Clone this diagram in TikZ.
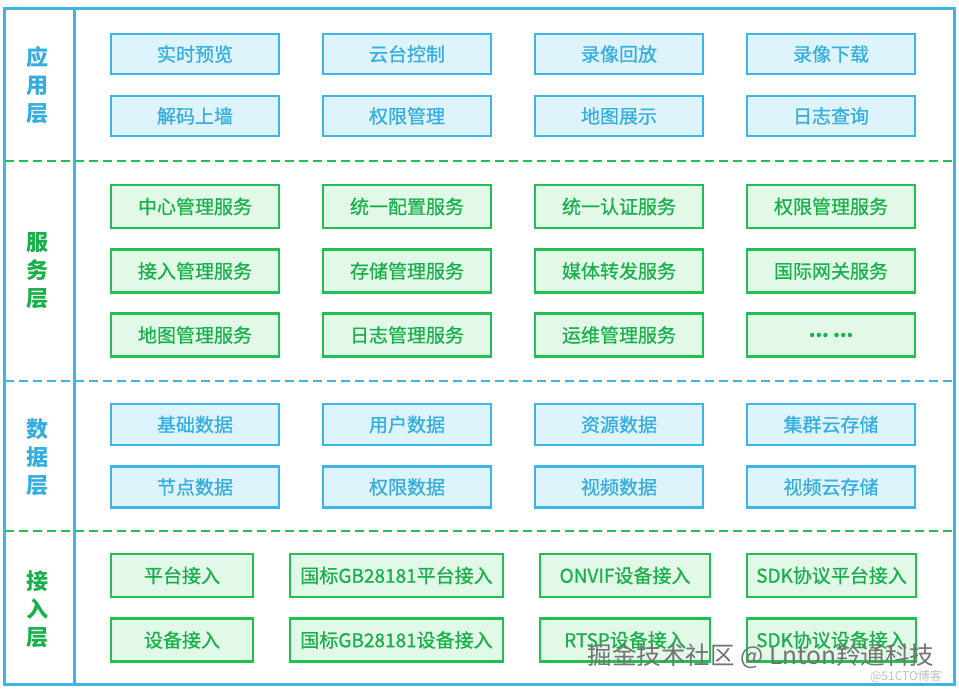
\documentclass[tikz,border=0pt]{standalone}
\usepackage{fontspec}
\setmainfont{Noto Sans CJK SC}
\newfontfamily\boxfont{Noto Sans CJK SC}[FakeBold=0.7]
\definecolor{cblue}{HTML}{3DB6E6}
\definecolor{cbluefill}{HTML}{DDF4FD}
\definecolor{cbluetext}{HTML}{35ADDF}
\definecolor{cgreen}{HTML}{22BF55}
\definecolor{cgreenfill}{HTML}{E2F9E7}
\definecolor{cgreentext}{HTML}{17B04A}
\tikzset{
  bbox/.style={draw=cblue, fill=cbluefill, line width=2.6pt, text=cbluetext,
    font=\boxfont\fontsize{19}{19}\selectfont, inner sep=0pt, minimum width=168pt},
  gbox/.style={draw=cgreen, fill=cgreenfill, line width=2.6pt, text=cgreentext,
    font=\boxfont\fontsize{19}{19}\selectfont, inner sep=0pt, minimum width=168pt},
  layerlbl/.style={font=\bfseries\fontsize{22}{28}\selectfont, align=center, inner sep=0pt},
  sepline/.style={line width=2.4pt, dash pattern=on 9pt off 5pt},
}
\begin{document}
\begin{tikzpicture}[x=1pt,y=-1pt]
\useasboundingbox (0,0) rectangle (959,690);
% frame
\draw[cblue, line width=3pt] (4.5,8.5) rectangle (954.5,684.5);
\draw[cblue, line width=3pt] (74,8.5) -- (74,684.5);
% separators
\coordinate (s1l) at (4.5,161); \coordinate (s1r) at (954.5,161);
\coordinate (s2l) at (4.5,381); \coordinate (s2r) at (954.5,381);
\coordinate (s3l) at (4.5,531); \coordinate (s3r) at (954.5,531);
\draw[sepline, cgreen] (s1l) -- (s1r);
\draw[sepline, cblue] (s2l) -- (s2r);
\draw[sepline, cgreen] (s3l) -- (s3r);
% layer labels
\node[layerlbl, text=cbluetext] (L1) at (38,85) {应\\用\\层};
\node[layerlbl, text=cgreentext] (L2) at (38,271) {服\\务\\层};
\node[layerlbl, text=cbluetext] (L3) at (38,457) {数\\据\\层};
\node[layerlbl, text=cgreentext] (L4) at (38,609) {接\\入\\层};
% application layer
\foreach \x/\n/\t in {195/a1/实时预览, 407/a2/云台控制, 619/a3/录像回放, 831/a4/录像下载}
  \node[bbox, minimum height=40pt] (\n) at (\x,54) {\t};
\foreach \x/\n/\t in {195/a5/解码上墙, 407/a6/权限管理, 619/a7/地图展示, 831/a8/日志查询}
  \node[bbox, minimum height=40pt] (\n) at (\x,116) {\t};
% service layer
\foreach \x/\n/\t in {195/b1/中心管理服务, 407/b2/统一配置服务, 619/b3/统一认证服务, 831/b4/权限管理服务}
  \node[gbox, minimum height=43pt] (\n) at (\x,206.5) {\t};
\foreach \x/\n/\t in {195/b5/接入管理服务, 407/b6/存储管理服务, 619/b7/媒体转发服务, 831/b8/国际网关服务}
  \node[gbox, minimum height=43pt] (\n) at (\x,271) {\t};
\foreach \x/\n/\t in {195/b9/地图管理服务, 407/b10/日志管理服务, 619/b11/运维管理服务}
  \node[gbox, minimum height=43pt] (\n) at (\x,335) {\t};
\node[gbox, minimum height=43pt] (b12) at (831,335) {\bfseries ...\ ...};
% data layer
\foreach \x/\n/\t in {195/c1/基础数据, 407/c2/用户数据, 619/c3/资源数据, 831/c4/集群云存储}
  \node[bbox, minimum height=41pt] (\n) at (\x,424.5) {\t};
\foreach \x/\n/\t in {195/c5/节点数据, 407/c6/权限数据, 619/c7/视频数据, 831/c8/视频云存储}
  \node[bbox, minimum height=41pt] (\n) at (\x,487) {\t};
% access layer
\node[gbox, minimum height=43pt, minimum width=142pt] (d1) at (182,575.5) {平台接入};
\node[gbox, minimum height=43pt, minimum width=213pt] (d2) at (396.5,575.5) {国标GB28181平台接入};
\node[gbox, minimum height=43pt, minimum width=170pt] (d3) at (625,575.5) {ONVIF设备接入};
\node[gbox, minimum height=43pt, minimum width=169pt] (d4) at (831.5,575.5) {SDK协议平台接入};
\node[gbox, minimum height=43pt, minimum width=142pt] (d5) at (182,640) {设备接入};
\node[gbox, minimum height=43pt, minimum width=213pt] (d6) at (396.5,640) {国标GB28181设备接入};
\node[gbox, minimum height=43pt, minimum width=170pt] (d7) at (625,640) {RTSP设备接入};
\node[gbox, minimum height=43pt, minimum width=169pt] (d8) at (831.5,640) {SDK协议设备接入};
% watermark
\node[text=black!55, font=\fontsize{24.5}{24.5}\selectfont, inner sep=0pt] (wm1) at (761,656) {掘金技术社区 @ Lnton羚通科技};
\node[text=black!25, font=\fontsize{12}{12}\selectfont, inner sep=0pt] (wm2) at (906,676) {@51CTO博客};
\end{tikzpicture}
\end{document}
